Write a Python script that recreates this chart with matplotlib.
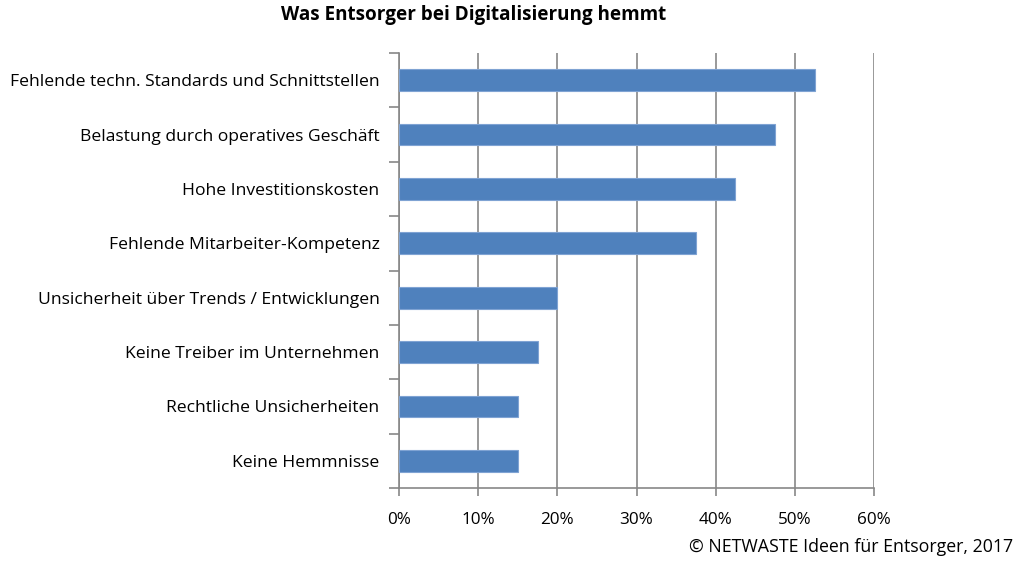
import matplotlib.pyplot as plt
from matplotlib.ticker import FuncFormatter

categories = [
    "Fehlende techn. Standards und Schnittstellen",
    "Belastung durch operatives Geschäft",
    "Hohe Investitionskosten",
    "Fehlende Mitarbeiter-Kompetenz",
    "Unsicherheit über Trends / Entwicklungen",
    "Keine Treiber im Unternehmen",
    "Rechtliche Unsicherheiten",
    "Keine Hemmnisse",
]
values = [52.5, 47.5, 42.5, 37.5, 20, 17.5, 15, 15]
xticks = [0, 10, 20, 30, 40, 50, 60]

plt.rcParams['font.family'] = ['Open Sans', 'DejaVu Sans']

fig = plt.figure(figsize=(10.24, 5.61), dpi=100)
ax = fig.add_axes([399 / 1024, 1 - 488 / 561, 475 / 1024, 435 / 561])

n = len(categories)
ypos = list(range(n))[::-1]
ax.barh(ypos, values, height=0.4, color='#4F81BD', edgecolor='#7FA3D3', linewidth=0.8, zorder=3)

ax.set_xlim(0, 60)
ax.set_ylim(-0.5, n - 0.5)
ax.set_xticks(xticks)
ax.xaxis.set_major_formatter(FuncFormatter(lambda v, p: f"{int(v)}%"))
ax.grid(axis='x', color='#878787', linewidth=1.2, zorder=0)

ax.set_yticks(ypos)
ax.set_yticklabels(categories)
ax.set_yticks([i - 0.5 for i in range(n + 1)], minor=True)
ax.tick_params(axis='y', which='major', length=0, pad=14, labelsize=12.6)
ax.tick_params(axis='y', which='minor', length=7, color='#878787', width=1.2)
ax.tick_params(axis='x', length=6, color='#878787', width=1.2, labelsize=12.3, pad=11)

for s in ['top', 'right']:
    ax.spines[s].set_visible(False)
for s in ['left', 'bottom']:
    ax.spines[s].set_color('#878787')
    ax.spines[s].set_linewidth(1.2)

fig.text(474 / 1024, 1 - 15 / 561, "Was Entsorger bei Digitalisierung hemmt",
         ha='center', va='center', fontsize=13.6, fontweight='bold')
fig.text(1013 / 1024, 1 - 547 / 561, "© NETWASTE Ideen für Entsorger, 2017",
         ha='right', va='center', fontsize=12.8)

fig.savefig("out.png", dpi=100)
